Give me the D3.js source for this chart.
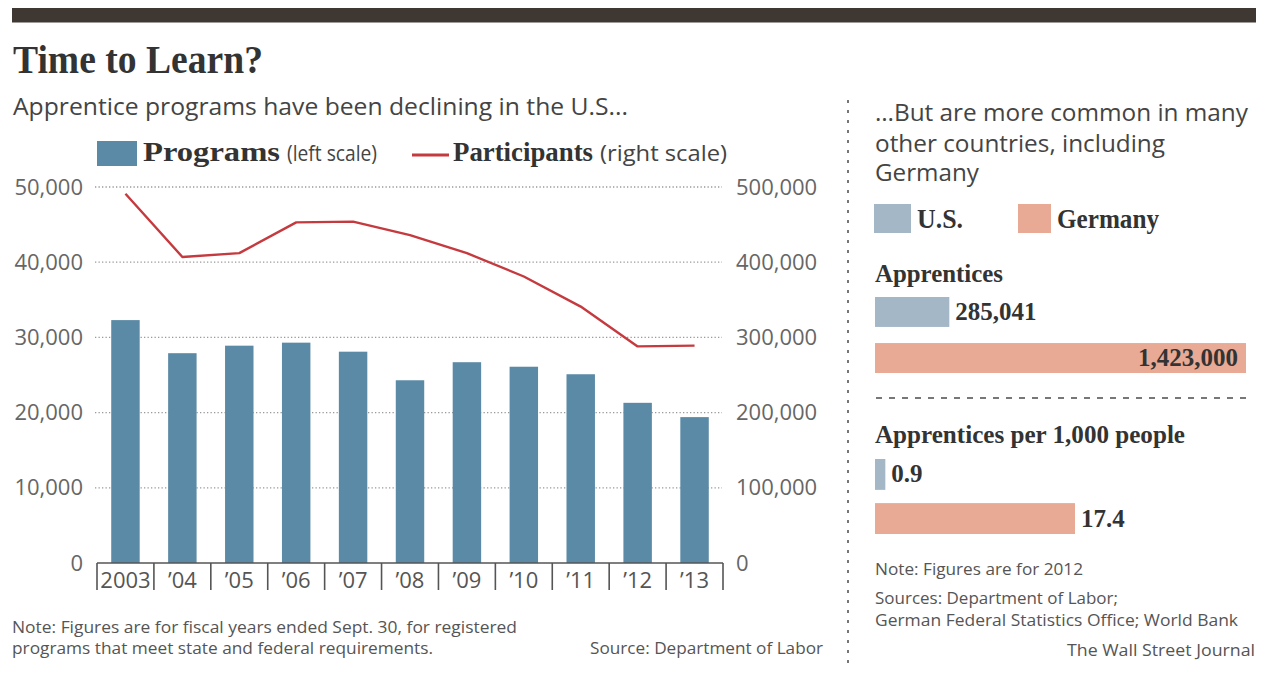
<!DOCTYPE html>
<html>
<head>
<meta charset="utf-8">
<script src="https://cdn.jsdelivr.net/npm/d3@7"></script>
<style>
  html, body { margin: 0; padding: 0; background: #fff; }
  svg { display: block; }
  .serif { font-family: "Liberation Serif", "DejaVu Serif", serif; font-weight: bold; fill: #333; }
  .sans { font-family: "Open Sans", "Noto Sans", sans-serif; fill: #444; }
  .note { font-family: "Open Sans", "Noto Sans", sans-serif; fill: #555; }
  .tick text { font-family: "Open Sans", "Noto Sans", sans-serif; font-size: 22px; fill: #666; }
</style>
</head>
<body>
<svg id="chart" width="1265" height="675"></svg>
<script>
// ---- Data ----------------------------------------------------------------
const years = ["2003", "’04", "’05", "’06", "’07", "’08", "’09", "’10", "’11", "’12", "’13"];
// Registered apprenticeship programs (left scale)
const programs = [32300, 27900, 28900, 29300, 28100, 24300, 26700, 26100, 25100, 21300, 19400];
// Active apprentices / participants (right scale)
const participants = [491000, 407000, 412000, 453000, 454000, 436000, 412000, 381000, 341000, 288000, 289000];
const leftTicks = [0, 10000, 20000, 30000, 40000, 50000];
const rightTicks = [0, 100000, 200000, 300000, 400000, 500000];

const countries = ["U.S.", "Germany"];
const apprentices = [285041, 1423000];
const perThousand = [0.9, 17.4];

// ---- Styling ---------------------------------------------------------------
const barBlue = "#5b8aa6";
const lineRed = "#c53a3f";
const countryColor = d3.scaleOrdinal().domain(countries).range(["#a4b7c7", "#e8a995"]);

const svg = d3.select("#chart");

function text(sel, x, y, str, cls, size, len, anchor) {
  const t = sel.append("text")
    .attr("class", cls)
    .attr("x", x).attr("y", y)
    .attr("font-size", size)
    .text(str);
  if (len) t.attr("textLength", len).attr("lengthAdjust", "spacingAndGlyphs");
  if (anchor) t.attr("text-anchor", anchor);
  return t;
}

// Top rule
svg.append("rect").attr("x", 12).attr("y", 8).attr("width", 1244).attr("height", 14.5).attr("fill", "#3e3732");

// Headline and chatter
text(svg, 13, 73, "Time to Learn?", "serif", 39, 250);
text(svg, 13, 114.5, "Apprentice programs have been declining in the U.S...", "sans", 24, 615).style("fill", "#444");

// ---- Left panel: bars + line ------------------------------------------------
const plotL = 97, plotR = 723, plotTop = 187, plotBase = 563;

const xCell = d3.scaleBand().domain(years).range([plotL, plotR]);
const xBar = d3.scaleBand().domain(years).range([plotL, plotR]).paddingInner(0.5).paddingOuter(0.25);
const yLeft = d3.scaleLinear().domain([0, 50000]).range([plotBase, plotTop]);
const yRight = d3.scaleLinear().domain([0, 500000]).range([plotBase, plotTop]);

// Dotted gridlines
svg.append("g").selectAll("line")
  .data(leftTicks.filter(d => d > 0))
  .join("line")
  .attr("x1", 95).attr("x2", 722)
  .attr("y1", d => yLeft(d)).attr("y2", d => yLeft(d))
  .attr("stroke", "#999").attr("stroke-width", 1.3)
  .attr("stroke-dasharray", "1.3,2.2");

// Left and right value axes (labels only)
const axL = svg.append("g").attr("transform", `translate(83,0)`)
  .call(d3.axisLeft(yLeft).tickValues(leftTicks).tickSize(0).tickPadding(0).tickFormat(d3.format(",")));
axL.select(".domain").remove();
const axR = svg.append("g").attr("transform", `translate(736,0)`)
  .call(d3.axisRight(yRight).tickValues(rightTicks).tickSize(0).tickPadding(0).tickFormat(d3.format(",")));
axR.select(".domain").remove();
axL.selectAll("text").attr("font-family", null).attr("font-size", null);
axR.selectAll("text").attr("font-family", null).attr("font-size", null);

// Bars
svg.append("g").selectAll("rect")
  .data(programs)
  .join("rect")
  .attr("x", (d, i) => xBar(years[i]))
  .attr("width", xBar.bandwidth())
  .attr("y", d => yLeft(d))
  .attr("height", d => plotBase - yLeft(d))
  .attr("fill", barBlue);

// Participants line
const line = d3.line()
  .x((d, i) => xCell(years[i]) + xCell.bandwidth() / 2)
  .y(d => yRight(d));
svg.append("path")
  .datum(participants)
  .attr("d", line)
  .attr("fill", "none")
  .attr("stroke", lineRed)
  .attr("stroke-width", 2.4)
  .attr("stroke-linejoin", "round");

// Category axis: baseline, cell dividers and year labels
const axB = svg.append("g").attr("transform", `translate(0,${plotBase})`)
  .call(d3.axisBottom(xCell).tickSize(0).tickPadding(9));
axB.select(".domain").remove();
axB.selectAll("text").attr("font-family", null).attr("font-size", null).style("fill", "#555");
svg.append("line")
  .attr("x1", plotL).attr("x2", plotR).attr("y1", plotBase).attr("y2", plotBase)
  .attr("stroke", "#555").attr("stroke-width", 1.6);
svg.append("g").selectAll("line")
  .data(years.map(d => xCell(d)).concat([plotR]))
  .join("line")
  .attr("x1", d => d).attr("x2", d => d)
  .attr("y1", plotBase).attr("y2", plotBase + 27)
  .attr("stroke", "#555").attr("stroke-width", 1.6);

// Legend
svg.append("rect").attr("x", 97).attr("y", 141).attr("width", 40).attr("height", 25).attr("fill", barBlue);
text(svg, 143, 161, "Programs", "serif", 27, 137);
text(svg, 287, 161, "(left scale)", "sans", 21, 90).style("fill", "#444");
svg.append("line").attr("x1", 412).attr("x2", 449).attr("y1", 155).attr("y2", 155)
  .attr("stroke", lineRed).attr("stroke-width", 3);
text(svg, 453, 161, "Participants", "serif", 27, 140);
text(svg, 600, 161, "(right scale)", "sans", 21, 127).style("fill", "#444");

// Footnotes
text(svg, 12, 633, "Note: Figures are for fiscal years ended Sept. 30, for registered", "note", 16.5, 505);
text(svg, 12, 654, "programs that meet state and federal requirements.", "note", 16.5, 421);
text(svg, 590, 654, "Source:  Department of Labor", "note", 16.5, 233);

// ---- Panel divider ------------------------------------------------------------
svg.append("line").attr("x1", 848).attr("x2", 848).attr("y1", 100).attr("y2", 666)
  .attr("stroke", "#777").attr("stroke-width", 2).attr("stroke-dasharray", "3,7");

// ---- Right panel: U.S. vs Germany --------------------------------------------
const px = 875;
text(svg, px, 121, "…But are more common in many", "sans", 23, 373).style("fill", "#444");
text(svg, px, 152, "other countries, including", "sans", 23, 290).style("fill", "#444");
text(svg, px, 181, "Germany", "sans", 23, 104).style("fill", "#444");

// Legend
svg.append("rect").attr("x", 874).attr("y", 204).attr("width", 37).attr("height", 29).attr("fill", countryColor("U.S."));
text(svg, 917, 228, "U.S.", "serif", 27, 46);
svg.append("rect").attr("x", 1018).attr("y", 204).attr("width", 33).attr("height", 29).attr("fill", countryColor("Germany"));
text(svg, 1057, 228, "Germany", "serif", 27, 102);

// Apprentices (absolute)
text(svg, px, 282, "Apprentices", "serif", 25, 128);
const xAbs = d3.scaleLinear().domain([0, 1423000]).range([0, 371]);
const yAbs = d3.scaleBand().domain(countries).range([297, 373]).paddingInner(0.35);
const gAbs = svg.append("g");
gAbs.selectAll("rect").data(apprentices).join("rect")
  .attr("x", px).attr("y", (d, i) => yAbs(countries[i]))
  .attr("width", d => xAbs(d)).attr("height", yAbs.bandwidth())
  .attr("fill", (d, i) => countryColor(countries[i]));
gAbs.selectAll("text").data(apprentices).join("text")
  .attr("class", "serif")
  .attr("font-size", 25)
  .attr("x", (d, i) => i === 0 ? px + xAbs(d) + 6 : px + xAbs(d) - 8)
  .attr("y", (d, i) => yAbs(countries[i]) + yAbs.bandwidth() / 2 + 8)
  .attr("text-anchor", (d, i) => i === 0 ? "start" : "end")
  .text(d => d3.format(",")(d));

// Separator
svg.append("line").attr("x1", 876).attr("x2", 1253).attr("y1", 398).attr("y2", 398)
  .attr("stroke", "#777").attr("stroke-width", 2).attr("stroke-dasharray", "6,7");

// Apprentices per 1,000 people
text(svg, px, 443, "Apprentices per 1,000 people", "serif", 25, 310);
const xRate = d3.scaleLinear().domain([0, 17.4]).range([0, 200]);
const yRate = d3.scaleBand().domain(countries).range([459, 534]).paddingInner(0.3);
const gRate = svg.append("g");
gRate.selectAll("rect").data(perThousand).join("rect")
  .attr("x", px).attr("y", (d, i) => yRate(countries[i]))
  .attr("width", d => xRate(d)).attr("height", yRate.bandwidth())
  .attr("fill", (d, i) => countryColor(countries[i]));
gRate.selectAll("text").data(perThousand).join("text")
  .attr("class", "serif")
  .attr("font-size", 25)
  .attr("x", d => px + xRate(d) + 6)
  .attr("y", (d, i) => yRate(countries[i]) + yRate.bandwidth() / 2 + 8)
  .text(d => d3.format(".1f")(d));

// Notes
text(svg, px, 575, "Note: Figures are for 2012", "note", 17, 208);
text(svg, px, 604, "Sources: Department of Labor;", "note", 17, 243);
text(svg, px, 626, "German Federal Statistics Office; World Bank", "note", 17, 363);
text(svg, 1255, 656, "The Wall Street Journal", "note", 17, 188, "end");
</script>
</body>
</html>
